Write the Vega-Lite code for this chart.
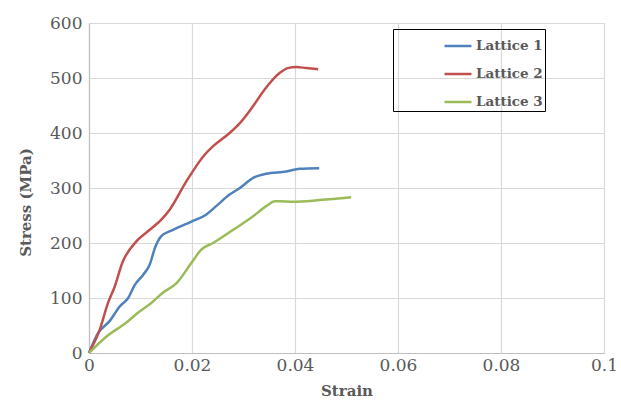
{
  "$schema": "https://vega.github.io/schema/vega-lite/v6.json",
  "width": 515,
  "height": 330,
  "autosize": {"type": "none"},
  "padding": {"left": 89, "top": 23, "right": 17, "bottom": 51},
  "background": "white",
  "data": {"values": [
    {"series": "Lattice 1", "strain": 0, "stress": 0},
    {"series": "Lattice 1", "strain": 0.00175, "stress": 36},
    {"series": "Lattice 1", "strain": 0.004, "stress": 58},
    {"series": "Lattice 1", "strain": 0.006, "stress": 85},
    {"series": "Lattice 1", "strain": 0.0076, "stress": 100},
    {"series": "Lattice 1", "strain": 0.0089, "stress": 124},
    {"series": "Lattice 1", "strain": 0.0105, "stress": 142},
    {"series": "Lattice 1", "strain": 0.0118, "stress": 161},
    {"series": "Lattice 1", "strain": 0.0128, "stress": 191},
    {"series": "Lattice 1", "strain": 0.014, "stress": 212},
    {"series": "Lattice 1", "strain": 0.0163, "stress": 224},
    {"series": "Lattice 1", "strain": 0.0199, "stress": 239},
    {"series": "Lattice 1", "strain": 0.0228, "stress": 252},
    {"series": "Lattice 1", "strain": 0.0247, "stress": 267},
    {"series": "Lattice 1", "strain": 0.0273, "stress": 288},
    {"series": "Lattice 1", "strain": 0.0293, "stress": 300},
    {"series": "Lattice 1", "strain": 0.0318, "stress": 318},
    {"series": "Lattice 1", "strain": 0.0344, "stress": 326},
    {"series": "Lattice 1", "strain": 0.0383, "stress": 330},
    {"series": "Lattice 1", "strain": 0.0409, "stress": 335},
    {"series": "Lattice 1", "strain": 0.0447, "stress": 336},
    {"series": "Lattice 2", "strain": 0, "stress": 0},
    {"series": "Lattice 2", "strain": 0.00207, "stress": 42},
    {"series": "Lattice 2", "strain": 0.00369, "stress": 91},
    {"series": "Lattice 2", "strain": 0.005, "stress": 121},
    {"series": "Lattice 2", "strain": 0.00647, "stress": 164},
    {"series": "Lattice 2", "strain": 0.00919, "stress": 203},
    {"series": "Lattice 2", "strain": 0.0118, "stress": 224},
    {"series": "Lattice 2", "strain": 0.014, "stress": 242},
    {"series": "Lattice 2", "strain": 0.0157, "stress": 261},
    {"series": "Lattice 2", "strain": 0.0189, "stress": 312},
    {"series": "Lattice 2", "strain": 0.0225, "stress": 361},
    {"series": "Lattice 2", "strain": 0.0241, "stress": 376},
    {"series": "Lattice 2", "strain": 0.0273, "stress": 400},
    {"series": "Lattice 2", "strain": 0.0293, "stress": 418},
    {"series": "Lattice 2", "strain": 0.0318, "stress": 448},
    {"series": "Lattice 2", "strain": 0.0341, "stress": 479},
    {"series": "Lattice 2", "strain": 0.037, "stress": 509},
    {"series": "Lattice 2", "strain": 0.0386, "stress": 518},
    {"series": "Lattice 2", "strain": 0.0403, "stress": 520},
    {"series": "Lattice 2", "strain": 0.0422, "stress": 518},
    {"series": "Lattice 2", "strain": 0.0445, "stress": 516},
    {"series": "Lattice 3", "strain": 0, "stress": 0},
    {"series": "Lattice 3", "strain": 0.0034, "stress": 30},
    {"series": "Lattice 3", "strain": 0.0072, "stress": 55},
    {"series": "Lattice 3", "strain": 0.0095, "stress": 73},
    {"series": "Lattice 3", "strain": 0.0121, "stress": 91},
    {"series": "Lattice 3", "strain": 0.0144, "stress": 110},
    {"series": "Lattice 3", "strain": 0.017, "stress": 127},
    {"series": "Lattice 3", "strain": 0.0199, "stress": 164},
    {"series": "Lattice 3", "strain": 0.0218, "stress": 188},
    {"series": "Lattice 3", "strain": 0.0241, "stress": 200},
    {"series": "Lattice 3", "strain": 0.028, "stress": 224},
    {"series": "Lattice 3", "strain": 0.0318, "stress": 248},
    {"series": "Lattice 3", "strain": 0.0344, "stress": 267},
    {"series": "Lattice 3", "strain": 0.0361, "stress": 276},
    {"series": "Lattice 3", "strain": 0.037, "stress": 276},
    {"series": "Lattice 3", "strain": 0.0396, "stress": 275},
    {"series": "Lattice 3", "strain": 0.0448, "stress": 278},
    {"series": "Lattice 3", "strain": 0.0509, "stress": 283}
  ]},
  "mark": {"type": "line", "interpolate": "monotone", "strokeWidth": 2.5},
  "encoding": {
    "x": {
      "field": "strain", "type": "quantitative", "title": "Strain",
      "scale": {"domain": [0, 0.1], "nice": false},
      "axis": {"values": [0, 0.02, 0.04, 0.06, 0.08, 0.1], "format": "~g", "labelFlush": false, "labelPadding": 4, "titlePadding": 10}
    },
    "y": {
      "field": "stress", "type": "quantitative", "title": "Stress (MPa)",
      "scale": {"domain": [0, 600], "nice": false},
      "axis": {"values": [0, 100, 200, 300, 400, 500, 600], "labelFlush": false, "labelPadding": 7, "titlePadding": 16, "titleY": 179}
    },
    "color": {
      "field": "series", "type": "nominal",
      "scale": {"domain": ["Lattice 1", "Lattice 2", "Lattice 3"], "range": ["#4F81BD", "#C0504D", "#9BBB59"]},
      "legend": {
        "title": null, "orient": "none", "legendX": 304, "legendY": 6,
        "strokeColor": "#000000", "padding": 2, "symbolOffset": 48,
        "symbolType": "stroke", "symbolStrokeWidth": 2.5, "symbolSize": 729,
        "labelFont": "DejaVu Serif", "labelFontWeight": "bold", "labelFontSize": 13.5,
        "labelColor": "#595959", "labelOffset": 3, "rowPadding": 6,
        "labelExpr": "datum.label + '         '"
      }
    }
  },
  "config": {
    "view": {"stroke": null},
    "axis": {
      "labelFont": "DejaVu Serif", "labelFontSize": 17, "labelColor": "#595959",
      "titleFont": "DejaVu Serif", "titleFontSize": 15, "titleFontWeight": "bold", "titleColor": "#595959",
      "gridColor": "#d9d9d9", "gridWidth": 1.2, "domainColor": "#bfbfbf", "domainWidth": 1.2,
      "ticks": false
    }
  }
}
